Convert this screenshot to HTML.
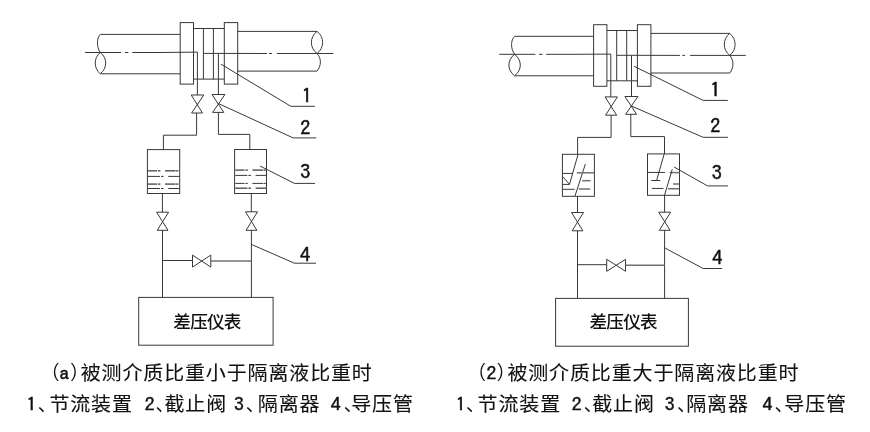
<!DOCTYPE html>
<html lang="zh-CN">
<head>
<meta charset="utf-8">
<title>差压仪表安装示意图</title>
<style>
html,body{margin:0;padding:0;background:#fff;}
body{width:870px;height:432px;overflow:hidden;position:relative;font-family:"Liberation Sans","Noto Sans CJK SC",sans-serif;color:#111;}
svg{will-change:transform;position:absolute;left:0;top:0;display:block;}
.k{fill:none;stroke:#383838;stroke-width:1;}
.g{fill:none;stroke:#5a5a5a;stroke-width:1.5;}
.g2{fill:none;stroke:#707070;stroke-width:1.5;}
text{font-family:"Liberation Sans","Noto Sans CJK SC",sans-serif;fill:#111;}
.c{stroke:#111;stroke-width:0.1;}
.b{font-weight:500;}
.n{font-family:"IPAGothic","Liberation Sans","Noto Sans CJK SC",sans-serif;stroke:#111;stroke-width:0.5;stroke-linejoin:round;}
.p{font-family:"IPAGothic","Liberation Sans","Noto Sans CJK SC",sans-serif;}
.m{font-family:"IPAGothic","Liberation Sans","Noto Sans CJK SC",sans-serif;stroke:#111;stroke-width:0.45;stroke-linejoin:round;}
</style>
</head>
<body>
<svg width="870" height="432" viewBox="0 0 870 432" role="img" aria-label="差压仪表安装示意图">
<line class="k" x1="100.3" y1="34.4" x2="180.2" y2="34.4"/>
<line class="k" x1="100.3" y1="73.8" x2="180.2" y2="73.8"/>
<line class="k" x1="237.7" y1="31.4" x2="317" y2="31.4"/>
<line class="k" x1="237.7" y1="71.1" x2="317" y2="71.1"/>
<path class="k" d="M100.3,34.4C96.5,38 96.5,47 100.3,52.5"/>
<path class="k" d="M100.3,52.5C93.5,58 93.5,68 100.3,73.8C107.5,68 107.5,58 100.3,52.5"/>
<path class="k" d="M317,31.4C309.5,37 309.5,48 317,53.5C324.5,48 324.5,37 317,31.4"/>
<path class="k" d="M317,53.5C321.5,58 321.5,66 317,71.1"/>
<rect class="k" x="180.2" y="22.6" width="13.3" height="61.5"/>
<rect class="k" x="224.3" y="22.6" width="13.4" height="61.5"/>
<line class="k" x1="193.5" y1="28.5" x2="224.3" y2="28.5"/>
<line class="k" x1="193.5" y1="79.1" x2="224.3" y2="79.1"/>
<line class="k" x1="203.4" y1="28.5" x2="203.4" y2="79.1"/>
<line class="k" x1="213.4" y1="28.5" x2="213.4" y2="79.1"/>
<line class="k" x1="85" y1="52.5" x2="121.0" y2="52.5"/>
<line class="k" x1="125.0" y1="52.5" x2="128.3" y2="52.5"/>
<polyline class="k" points="132.2,52.5 160,52.5 197.4,52.1 197.4,95.0"/>
<polyline class="k" points="218.4,94.5 218.4,53.4 203.4,53.4"/>
<line class="k" x1="218.4" y1="53.4" x2="266.8" y2="53.5"/>
<line class="k" x1="269.0" y1="53.5" x2="272.1" y2="53.5"/>
<line class="k" x1="276.8" y1="53.5" x2="333.3" y2="53.5"/>
<path class="k" d="M191.2,95.0H203.8L191.6,113.0H202.5Z"/>
<path class="k" d="M212.0,94.5H224.9L212.6,112.4H223.8Z"/>
<polyline class="k" points="196.6,113 196.6,135.2 163.4,135.2 163.4,149.6"/>
<polyline class="k" points="218.4,112.3 218.4,134.4 249.8,134.4 249.8,149.5"/>
<rect class="k" x="147.4" y="149.6" width="32.3" height="43.9"/>
<rect class="k" x="234.6" y="149.5" width="31.9" height="44.0"/>
<line class="g" x1="147.89999999999998" y1="170.8" x2="157.1" y2="170.8"/>
<line class="g" x1="158.0" y1="170.8" x2="160.39999999999998" y2="170.8"/>
<line class="g" x1="165.0" y1="170.8" x2="175.6" y2="170.8"/>
<line class="g" x1="176.1" y1="170.8" x2="178.39999999999998" y2="170.8"/>
<line class="k" x1="147.89999999999998" y1="176.4" x2="160.0" y2="176.4"/>
<line class="k" x1="161.0" y1="176.4" x2="163.6" y2="176.4"/>
<line class="k" x1="168.2" y1="176.4" x2="179.7" y2="176.4"/>
<line class="g" x1="147.89999999999998" y1="184.1" x2="157.1" y2="184.1"/>
<line class="g" x1="158.0" y1="184.1" x2="160.39999999999998" y2="184.1"/>
<line class="g" x1="165.0" y1="184.1" x2="175.6" y2="184.1"/>
<line class="g" x1="176.1" y1="184.1" x2="178.39999999999998" y2="184.1"/>
<line class="k" x1="147.89999999999998" y1="188.5" x2="160.0" y2="188.5"/>
<line class="k" x1="161.0" y1="188.5" x2="163.6" y2="188.5"/>
<line class="k" x1="168.2" y1="188.5" x2="179.7" y2="188.5"/>
<line class="g" x1="235.29999999999998" y1="170.1" x2="244.5" y2="170.1"/>
<line class="g" x1="245.4" y1="170.1" x2="247.79999999999998" y2="170.1"/>
<line class="g" x1="252.4" y1="170.1" x2="263.0" y2="170.1"/>
<line class="g" x1="263.5" y1="170.1" x2="265.8" y2="170.1"/>
<line class="k" x1="235.29999999999998" y1="175.4" x2="247.4" y2="175.4"/>
<line class="k" x1="248.4" y1="175.4" x2="251.0" y2="175.4"/>
<line class="k" x1="255.6" y1="175.4" x2="266.5" y2="175.4"/>
<line class="k" x1="235.29999999999998" y1="183.4" x2="244.5" y2="183.4"/>
<line class="k" x1="245.4" y1="183.4" x2="247.79999999999998" y2="183.4"/>
<line class="k" x1="252.4" y1="183.4" x2="263.0" y2="183.4"/>
<line class="k" x1="263.5" y1="183.4" x2="265.8" y2="183.4"/>
<line class="g" x1="235.29999999999998" y1="188.2" x2="247.4" y2="188.2"/>
<line class="g" x1="248.4" y1="188.2" x2="251.0" y2="188.2"/>
<line class="g" x1="255.6" y1="188.2" x2="266.5" y2="188.2"/>
<line class="k" x1="162.4" y1="193.5" x2="162.4" y2="212.2"/>
<path class="k" d="M156.6,212.2H168.6L157.2,230.3H168.0Z"/>
<line class="k" x1="162.5" y1="230.3" x2="162.5" y2="297.4"/>
<line class="k" x1="251.3" y1="193.5" x2="251.3" y2="211.8"/>
<path class="k" d="M245.5,211.8H257.5L246.1,230.3H256.9Z"/>
<line class="k" x1="251.4" y1="230.3" x2="251.4" y2="297.4"/>
<line class="k" x1="162.5" y1="260.5" x2="192.5" y2="260.5"/>
<path class="k" d="M192.5,255.10000000000002V267.1L210.8,255.10000000000002V267.1Z"/>
<line class="g2" x1="210.8" y1="261" x2="251.4" y2="261"/>
<rect class="k" x="138.7" y="297.4" width="134.4" height="47.8"/>
<polyline class="k" points="221,64.2 290.8,106.3 314.9,106.3"/>
<polyline class="k" points="218.4,103.5 293.1,137.9 316.3,137.9"/>
<polyline class="k" points="260,166 294.4,183.4 315,183.4"/>
<polyline class="k" points="251.4,244.4 294.4,263.2 316,263.2"/>
<line class="k" x1="514.7" y1="36.3" x2="593.6" y2="36.3"/>
<line class="k" x1="514.7" y1="75.8" x2="593.6" y2="75.8"/>
<line class="k" x1="650.9" y1="33.4" x2="729.7" y2="33.4"/>
<line class="k" x1="650.9" y1="73" x2="729.7" y2="73"/>
<path class="k" d="M514.7,36.3C510.5,40 510.5,49 514.7,54.3"/>
<path class="k" d="M514.6,54.3C507,60 507,70 514.6,75.8C522.2,70 522.2,60 514.6,54.3"/>
<path class="k" d="M729.7,33.4C722.5,39 722.5,50 729.7,55.3C736.9,50 736.9,39 729.7,33.4"/>
<path class="k" d="M729.7,55.3C734,60 734,68 729.7,73"/>
<rect class="k" x="593.6" y="24.7" width="13.3" height="61.6"/>
<rect class="k" x="637.4" y="24.7" width="13.5" height="61.6"/>
<line class="k" x1="606.9" y1="30.5" x2="637.4" y2="30.5"/>
<line class="k" x1="606.9" y1="80.8" x2="637.4" y2="80.8"/>
<line class="k" x1="616.7" y1="30.5" x2="616.7" y2="80.8"/>
<line class="k" x1="626.7" y1="30.5" x2="626.7" y2="80.8"/>
<line class="k" x1="499.2" y1="54.3" x2="535.4" y2="54.3"/>
<line class="k" x1="539.0" y1="54.3" x2="542.6" y2="54.3"/>
<polyline class="k" points="546.1,54.3 575,54.3 610.8,54.1 610.8,96.9"/>
<polyline class="k" points="631.5,96.6 631.5,55.3 616.7,55.3"/>
<line class="k" x1="631.5" y1="55.3" x2="679.9" y2="55.4"/>
<line class="k" x1="682.4" y1="55.4" x2="685.0" y2="55.4"/>
<line class="k" x1="690.1" y1="55.4" x2="745.8" y2="55.4"/>
<path class="k" d="M605.0,96.9H617.4L605.6,115.2H616.7Z"/>
<path class="k" d="M624.9,96.5H637.9L625.6,114.3H636.6Z"/>
<polyline class="k" points="611.1,115.2 611.1,137.4 577.6,137.4 577.6,154.3"/>
<polyline class="k" points="630.8,114.3 630.8,136.6 664.5,136.6 664.5,153.9"/>
<rect class="k" x="562.4" y="154.3" width="32.0" height="42.0"/>
<rect class="k" x="647.5" y="153.9" width="32.0" height="41.4"/>
<line class="k" x1="578.1" y1="154.3" x2="569.5" y2="184.3"/>
<line class="k" x1="585.4" y1="164" x2="574.9" y2="196.3"/>
<line class="k" x1="562.4" y1="173.4" x2="572.8" y2="173.4"/>
<line class="g2" x1="576.75" y1="172.8" x2="594.4" y2="172.8"/>
<line class="k" x1="562.8" y1="176.6" x2="569.4" y2="184.3"/>
<line class="k" x1="562.4" y1="184.4" x2="569.7" y2="184.4"/>
<line class="g2" x1="582.2" y1="180.7" x2="590.5" y2="180.7"/>
<line class="k" x1="562.4" y1="189.3" x2="574.6" y2="189.3"/>
<line class="g2" x1="578.8" y1="189.0" x2="590.1" y2="189.0"/>
<line class="k" x1="664.2" y1="153.9" x2="656.6" y2="180.5"/>
<line class="k" x1="651.3" y1="180.5" x2="660.2" y2="180.5"/>
<line class="k" x1="647.5" y1="172.45" x2="665.1" y2="172.45"/>
<line class="g2" x1="669.7" y1="172.6" x2="679.5" y2="172.6"/>
<line class="k" x1="672.3" y1="169.2" x2="664.5" y2="195.3"/>
<line class="g2" x1="673.0" y1="184.0" x2="679.2" y2="184.0"/>
<line class="k" x1="651.8" y1="188.45" x2="663.4" y2="188.45"/>
<line class="g2" x1="668.0" y1="188.75" x2="679.2" y2="188.75"/>
<line class="k" x1="577.5" y1="196.3" x2="577.5" y2="212.5"/>
<path class="k" d="M571.5,212.5H583.5L572.1,230.8H582.9Z"/>
<line class="k" x1="577.5" y1="230.8" x2="577.5" y2="298.4"/>
<line class="k" x1="664.6" y1="195.3" x2="664.6" y2="212.2"/>
<path class="k" d="M658.7,212.2H670.7L659.3000000000001,230.3H670.1Z"/>
<line class="k" x1="664.6" y1="230.3" x2="664.6" y2="298.4"/>
<line class="k" x1="577.5" y1="264.7" x2="606.7" y2="264.7"/>
<path class="k" d="M606.7,259.3V271.3L625.5,259.3V271.3Z"/>
<line class="g2" x1="625.5" y1="265.2" x2="664.6" y2="265.2"/>
<rect class="k" x="555.6" y="298.4" width="132.8" height="47.8"/>
<polyline class="k" points="634.2,66.3 703.1,100.4 727.8,100.4"/>
<polyline class="k" points="631.4,106 703.1,137.3 727.9,137.3"/>
<polyline class="k" points="674.1,167 707.5,185.9 728.1,185.9"/>
<polyline class="k" points="664.6,247.8 703.1,268.5 722.1,268.5"/>
<text class="n" transform="translate(301.75,102.62)" font-size="20.2">1</text>
<text class="n" transform="translate(300.2,135.05)" font-size="20.2">2</text>
<text class="n" transform="translate(300.2,178.8)" font-size="20.2">3</text>
<text class="n" transform="translate(300.0,262.12)" font-size="20.2">4</text>
<text class="n" transform="translate(710.15,97.22)" font-size="20.2">1</text>
<text class="n" transform="translate(710.3,133.25)" font-size="20.2">2</text>
<text class="n" transform="translate(711.7,179.6)" font-size="20.2">3</text>
<text class="n" transform="translate(712.35,264.93)" font-size="20.2">4</text>
<text class="b" x="173.29 190.14 206.99 223.84" y="328.11" font-size="17.6">差压仪表</text>
<text class="b" x="589.45 606.3 623.15 640.0" y="328.21" font-size="17.6">差压仪表</text>
<text class="p" transform="translate(50.95,379.5) scale(0.92,1)" font-size="20">(</text>
<text class="m" transform="translate(59.25,379.6) scale(1.05,1)" font-size="18.8">a</text>
<text class="p" transform="translate(69.47,379.5) scale(0.92,1)" font-size="20">)</text>
<text class="c" transform="translate(0,380.0) scale(1,0.965)" x="80.7 101.56 122.42 143.28 164.14 185.0 205.86 226.72 247.58 268.44 289.3 310.16 331.02 351.88" y="0" font-size="20.0">被测介质比重小于隔离液比重时</text>
<text class="m" transform="translate(26.52,410.7) scale(1.05,1)" font-size="18.8">1</text>
<text class="q" transform="translate(37.78,410.5)" font-size="18.5">、</text>
<text class="c" transform="translate(0,410.8) scale(1,0.965)" x="49.4 70.26 91.12 111.98" y="0" font-size="20.0">节流装置</text>
<text class="m" transform="translate(144.78,410.7) scale(1.05,1)" font-size="18.8">2</text>
<text class="q" transform="translate(155.55,410.5)" font-size="18.5">、</text>
<text class="c" transform="translate(0,410.8) scale(1,0.965)" x="164.48 185.34 206.2" y="0" font-size="20.0">截止阀</text>
<text class="m" transform="translate(233.93,410.7) scale(1.05,1)" font-size="18.8">3</text>
<text class="q" transform="translate(245.72,410.5)" font-size="18.5">、</text>
<text class="c" transform="translate(0,410.8) scale(1,0.965)" x="257.82 278.68 299.54" y="0" font-size="20.0">隔离器</text>
<text class="m" transform="translate(330.75,410.7) scale(1.05,1)" font-size="18.8">4</text>
<text class="q" transform="translate(343.78,410.5)" font-size="18.5">、</text>
<text class="c" transform="translate(0,410.8) scale(1,0.965)" x="351.18 372.04 392.9" y="0" font-size="20.0">导压管</text>
<text class="p" transform="translate(477.4,379.5) scale(0.92,1)" font-size="20">(</text>
<text class="m" transform="translate(486.62,379.6) scale(1.05,1)" font-size="18.8">2</text>
<text class="p" transform="translate(496.02,379.5) scale(0.92,1)" font-size="20">)</text>
<text class="c" transform="translate(0,380.0) scale(1,0.965)" x="507.4 528.26 549.12 569.98 590.84 611.7 632.56 653.42 674.28 695.14 716.0 736.86 757.72 778.58" y="0" font-size="20.0">被测介质比重大于隔离液比重时</text>
<text class="m" transform="translate(455.77,410.7) scale(1.05,1)" font-size="18.8">1</text>
<text class="q" transform="translate(466.12,410.5)" font-size="18.5">、</text>
<text class="c" transform="translate(0,410.8) scale(1,0.965)" x="477.58 498.44 519.3 540.16" y="0" font-size="20.0">节流装置</text>
<text class="m" transform="translate(571.83,410.7) scale(1.05,1)" font-size="18.8">2</text>
<text class="q" transform="translate(583.68,410.5)" font-size="18.5">、</text>
<text class="c" transform="translate(0,410.8) scale(1,0.965)" x="592.27 613.13 633.99" y="0" font-size="20.0">截止阀</text>
<text class="m" transform="translate(664.83,410.7) scale(1.05,1)" font-size="18.8">3</text>
<text class="q" transform="translate(677.08,410.5)" font-size="18.5">、</text>
<text class="c" transform="translate(0,410.8) scale(1,0.965)" x="686.26 707.12 727.98" y="0" font-size="20.0">隔离器</text>
<text class="m" transform="translate(762.4,410.7) scale(1.05,1)" font-size="18.8">4</text>
<text class="q" transform="translate(774.38,410.5)" font-size="18.5">、</text>
<text class="c" transform="translate(0,410.8) scale(1,0.965)" x="784.37 805.23 826.09" y="0" font-size="20.0">导压管</text>
</svg>
</body>
</html>
